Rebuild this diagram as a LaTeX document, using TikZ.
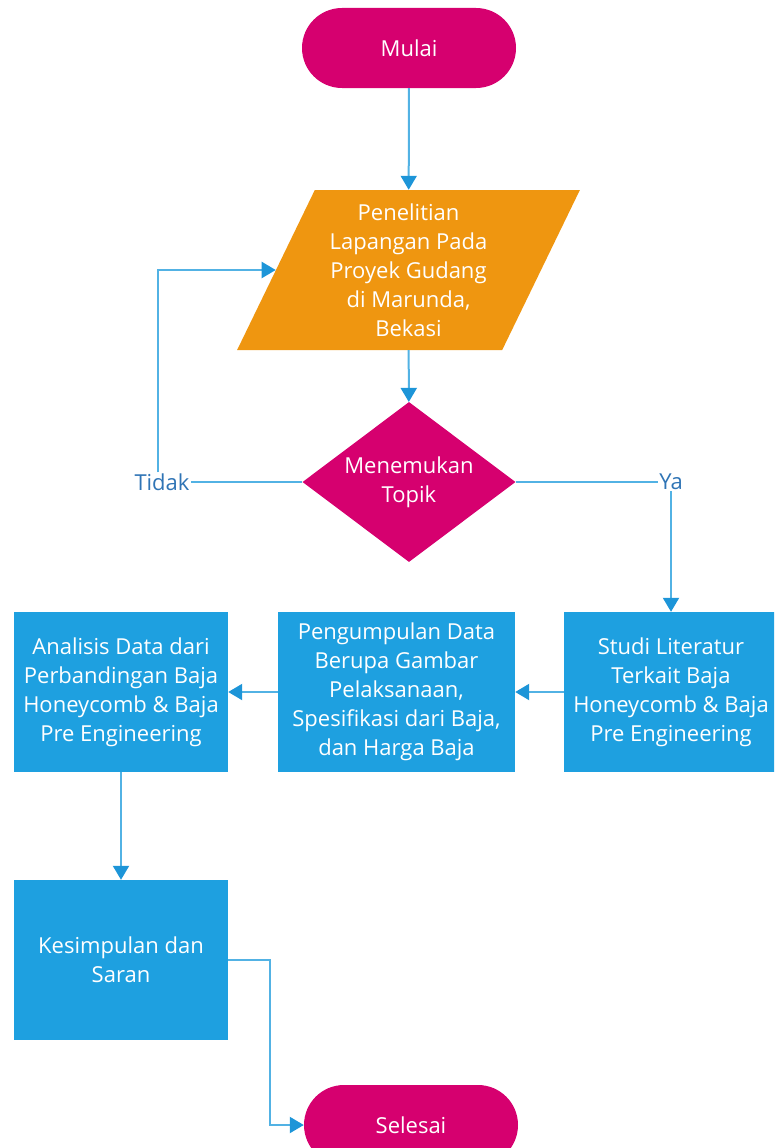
\documentclass[tikz,border=0pt]{standalone}
\usepackage{fontspec}
\setmainfont{Open Sans}
\usepackage{tikz}
\usetikzlibrary{positioning,arrows.meta,shapes.geometric}
\definecolor{cmagenta}{HTML}{D6006F}
\definecolor{coranye}{HTML}{EF9610}
\definecolor{cbiru}{HTML}{1EA0E0}
\definecolor{cgaris}{HTML}{52B2E4}
\definecolor{cpanah}{HTML}{1D95D8}
\definecolor{cket}{HTML}{2F74B5}
\newcommand\teks{\fontsize{22}{29}\selectfont}
\tikzset{
  terminal/.style={rectangle, rounded corners=40pt, fill=cmagenta, text=white,
    minimum width=214pt, minimum height=80pt, align=center, font=\teks},
  jajar/.style={trapezium, trapezium left angle=64, trapezium right angle=116,
    trapezium stretches=true, fill=coranye, text=white,
    minimum width=343pt, minimum height=160pt, align=center, font=\teks},
  belah/.style={diamond, aspect=1.33, inner sep=0pt, fill=cmagenta, text=white,
    minimum width=213pt, minimum height=160pt, align=center, font=\teks},
  kotak/.style={rectangle, fill=cbiru, text=white, minimum height=160pt,
    align=center, font=\teks},
  panah/.style={-{Triangle[length=14pt, width=16pt, color=cpanah]}, line width=2pt, draw=cgaris},
  garis/.style={line width=2pt, draw=cgaris},
  ket/.style={text=cket, inner sep=1pt, font=\teks},
}

\begin{document}
\begin{tikzpicture}[x=1pt, y=-1pt]
  \useasboundingbox (0,0) rectangle (774,1148);
  \clip (0,0) rectangle (774,1148);
  \node[terminal] (mulai) at (409,48) {Mulai};
  \node[jajar] (penelitian) at (408.5,270) {Penelitian\\Lapangan Pada\\Proyek Gudang\\di Marunda,\\Bekasi};
  \node[belah] (topik) at (409,482) {Menemukan\\Topik};
  \node[ket] (tidak) at (162,482) {Tidak};
  \node[ket] (ya) at (671,482) {Ya};
  \node[kotak, minimum width=214pt] (studi) at (671,692) {Studi Literatur\\Terkait Baja\\Honeycomb \& Baja\\Pre Engineering};
  \node[kotak, minimum width=237pt] (kumpul) at (396.5,692) {Pengumpulan Data\\Berupa Gambar\\Pelaksanaan,\\Spesifikasi dari Baja,\\dan Harga Baja};
  \node[kotak, minimum width=214pt] (analisis) at (121,692) {Analisis Data dari\\Perbandingan Baja\\Honeycomb \& Baja\\Pre Engineering};
  \node[kotak, minimum width=214pt] (simpulan) at (121,960) {Kesimpulan dan\\Saran};
  \node[terminal] (selesai) at (411,1125) {Selesai};

  \draw[panah] (mulai) -- (penelitian);
  \draw[panah] (penelitian) -- (topik);
  \draw[garis] (topik.west) -- (tidak.east);
  \draw[panah] ([xshift=-4pt]tidak.north) |- (penelitian.west);
  \draw[garis] (topik.east) -- (ya.west);
  \draw[panah] (ya.south) -- (studi.north);
  \draw[panah] (studi.west) -- (kumpul.east);
  \draw[panah] (kumpul.west) -- (analisis.east);
  \draw[panah] (analisis.south) -- (simpulan.north);
  \draw[panah] (simpulan.east) -- ++(42,0) |- (selesai.west);
\end{tikzpicture}
\end{document}
